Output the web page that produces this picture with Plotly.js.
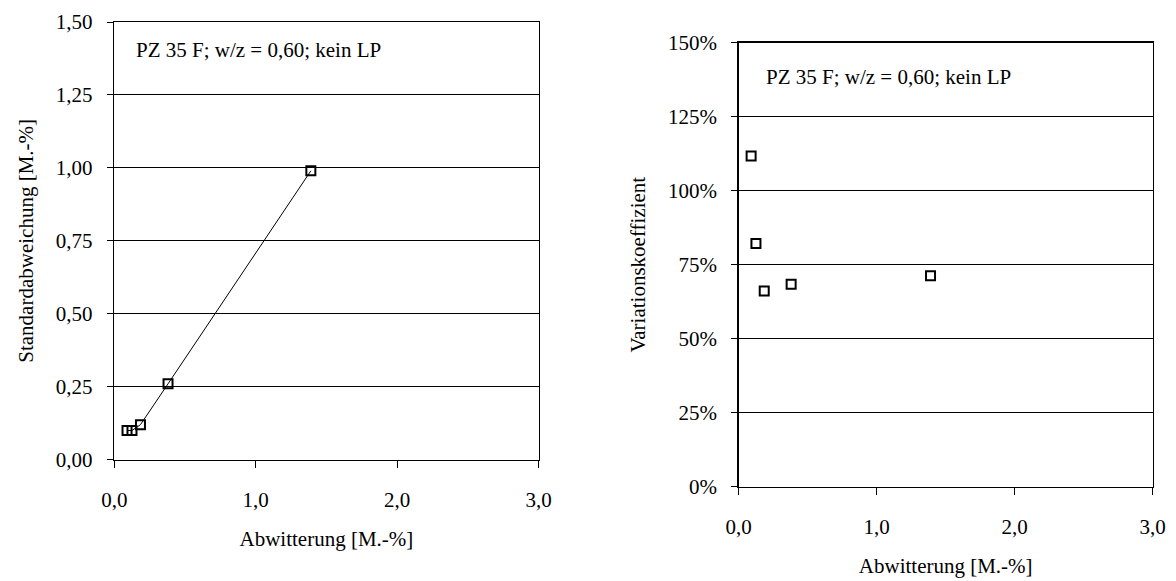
<!DOCTYPE html>
<html>
<head>
<meta charset="utf-8">
<script src="https://cdn.plot.ly/plotly-3.0.1.min.js"></script>
<style>html,body{margin:0;padding:0;background:#fff}#chart{width:1176px;height:581px}</style>
</head>
<body>
<div id="chart"></div>
<script>
// Data
const abwitterung = [0.09, 0.125, 0.185, 0.38, 1.39];          // Abwitterung [M.-%]
const standardabweichung = [0.10, 0.10, 0.12, 0.26, 0.99];    // Standardabweichung [M.-%]
const variationskoeffizient = [111.7, 82.2, 66.1, 68.4, 71.3]; // Variationskoeffizient [%]
const xTickVals = [0, 1, 2, 3];
const xTickText = ['0,0', '1,0', '2,0', '3,0'];
const yLeftTickVals = [0, 0.25, 0.5, 0.75, 1.0, 1.25, 1.5];
const yLeftTickText = ['0,00', '0,25', '0,50', '0,75', '1,00', '1,25', '1,50'];
const yRightTickVals = [0, 25, 50, 75, 100, 125, 150];
const yRightTickText = ['0%', '25%', '50%', '75%', '100%', '125%', '150%'];
const labelText = 'PZ 35 F; w/z = 0,60; kein LP';
const xTitle = 'Abwitterung [M.-%]';
const yTitleLeft = 'Standardabweichung [M.-%]';
const yTitleRight = 'Variationskoeffizient';

const W = 1176, H = 581;
const FONT = 'Liberation Serif, Times New Roman, serif';
const fs = 21;

function xd(a, b) { return [a / W, b / W]; }
function yd(top, bottom) { return [1 - bottom / H, 1 - top / H]; }

const markerStyle = {symbol: 'square-open', size: 9, color: '#000', line: {color: '#000', width: 2}};

const traces = [
  {x: abwitterung, y: standardabweichung, type: 'scatter', mode: 'lines+markers',
   line: {color: '#000', width: 1}, marker: markerStyle, xaxis: 'x', yaxis: 'y', showlegend: false, cliponaxis: false},
  {x: abwitterung, y: variationskoeffizient, type: 'scatter', mode: 'markers',
   marker: markerStyle, xaxis: 'x2', yaxis: 'y2', showlegend: false, cliponaxis: false}
];

const axisCommon = {
  showline: true, linecolor: '#000', linewidth: 1.5, mirror: true,
  ticks: 'outside', ticklen: 7, tickwidth: 1, tickcolor: '#000',
  tickfont: {family: FONT, size: fs, color: '#000'},
  zeroline: false, fixedrange: true, tickmode: 'array'
};

const layout = {
  width: W, height: H,
  margin: {l: 0, r: 0, t: 0, b: 0},
  paper_bgcolor: '#fff', plot_bgcolor: '#fff',
  separators: ',.',
  font: {family: FONT, size: fs, color: '#000'},
  showlegend: false,
  xaxis: Object.assign({}, axisCommon, {
    domain: xd(114.3, 538.5), range: [0, 3], tickvals: xTickVals, ticktext: xTickText,
    showgrid: false, anchor: 'y', ticklabelstandoff: 14,
    title: {text: xTitle, font: {family: FONT, size: fs, color: '#000'}, standoff: 20}
  }),
  yaxis: Object.assign({}, axisCommon, {
    domain: yd(22, 459.7), range: [0, 1.5], tickvals: yLeftTickVals, ticktext: yLeftTickText,
    showgrid: true, gridcolor: '#000', gridwidth: 1, anchor: 'x', ticklen: 6, ticklabelstandoff: 10,
    title: {text: yTitleLeft, font: {family: FONT, size: fs, color: '#000'}, standoff: 16}
  }),
  xaxis2: Object.assign({}, axisCommon, {
    domain: xd(738.7, 1152.7), range: [0, 3], tickvals: xTickVals, ticktext: xTickText,
    showgrid: false, anchor: 'y2', ticklabelstandoff: 14,
    title: {text: xTitle, font: {family: FONT, size: fs, color: '#000'}, standoff: 20}
  }),
  yaxis2: Object.assign({}, axisCommon, {
    domain: yd(42.7, 486.7), range: [0, 150], tickvals: yRightTickVals, ticktext: yRightTickText,
    showgrid: true, gridcolor: '#000', gridwidth: 1, anchor: 'x2', ticklen: 6, ticklabelstandoff: 10,
    title: {text: yTitleRight, font: {family: FONT, size: fs, color: '#000'}, standoff: 16}
  }),
  annotations: [
    {text: labelText, xref: 'x domain', yref: 'y domain', x: 0.046, y: 0.936,
     xanchor: 'left', yanchor: 'middle', showarrow: false, font: {family: FONT, size: fs, color: '#000'}},
    {text: labelText, xref: 'x2 domain', yref: 'y2 domain', x: 0.061, y: 0.923,
     xanchor: 'left', yanchor: 'middle', showarrow: false, font: {family: FONT, size: fs, color: '#000'}}
  ]
};

Plotly.newPlot('chart', traces, layout, {displayModeBar: false, staticPlot: true});
</script>
</body>
</html>
